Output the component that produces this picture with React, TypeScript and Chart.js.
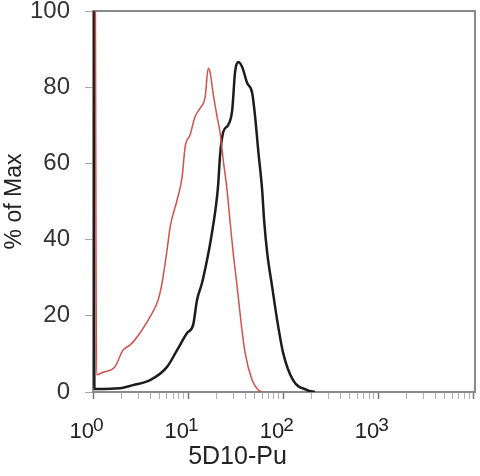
import { useEffect, useRef } from 'react';
import { Chart, registerables } from 'chart.js';

Chart.register(...registerables);

// black histogram (stained)
const blackX = [1.02, 1.035, 1.1, 1.92, 2.64, 3.98, 6.01, 7.66, 9.76, 11.3, 12.4, 14.0, 15.8, 17.1, 19.7, 20.7, 21.7, 23.4, 26.4, 29.1, 31.2, 33.6, 37.0, 41.8, 47.2, 50.7, 54.6, 60.1, 63.0, 67.9, 76.6, 86.4, 100, 127, 179, 216];
const blackY = [100, 0.8, 0.8, 1.0, 1.8, 3.1, 6.6, 11.0, 15.5, 17.6, 24.1, 28.6, 34.6, 39.1, 49.1, 54.3, 62.2, 68.2, 70.1, 74.0, 84.0, 86.6, 85.3, 81.1, 78.5, 72.2, 63.5, 53.0, 45.1, 36.5, 27.6, 18.9, 10.2, 3.1, 0.5, 0];

// red histogram (control)
const redX = [1.06, 1.09, 1.27, 1.7, 2.07, 2.45, 3.12, 3.98, 4.83, 5.32, 6.01, 6.47, 7.66, 8.65, 9.3, 10.5, 11.8, 13.4, 15.1, 16.3, 17.1, 18.3, 20.2, 21.7, 23.4, 25.7, 27.7, 29.8, 32.8, 35.8, 39.8, 47.2, 54.6, 60.1];
const redY = [100, 4.5, 5.2, 6.6, 11.0, 12.3, 15.5, 19.7, 24.1, 28.6, 37.3, 43.3, 50.4, 56.4, 64.3, 67.5, 72.2, 74.5, 77.4, 85.0, 83.7, 78.5, 72.2, 68.0, 60.9, 53.0, 44.4, 36.5, 27.6, 18.9, 10.2, 3.1, 0.5, 0];

const decades = [1, 10, 100, 1000];
const exponents = ['0', '1', '2', '3'];
const yTicks = [0, 20, 40, 60, 80, 100];

const FONT = '"Liberation Sans", Arial, sans-serif';

const frame = {
  id: 'frame',
  beforeDatasetsDraw(chart: Chart) {
    const { ctx, chartArea } = chart;
    ctx.save();
    ctx.strokeStyle = '#8a8a8a';
    ctx.lineWidth = 2;
    ctx.strokeRect(chartArea.left, chartArea.top, chartArea.right - chartArea.left, chartArea.bottom - chartArea.top);
    ctx.restore();
  },
};

const powerLabels = {
  id: 'powerLabels',
  afterDraw(chart: Chart) {
    const { ctx } = chart;
    const x = chart.scales.x;
    ctx.save();
    ctx.fillStyle = '#222';
    ctx.textBaseline = 'alphabetic';
    decades.forEach((d, i) => {
      const px = x.getPixelForValue(d);
      ctx.font = `22px ${FONT}`;
      ctx.textAlign = 'right';
      ctx.fillText('10', px + 1, x.top + 46);
      ctx.font = `19px ${FONT}`;
      ctx.textAlign = 'left';
      ctx.fillText(exponents[i], px, x.top + 39);
    });
    ctx.restore();
  },
};

export default function App() {
  const chartRef = useRef<HTMLCanvasElement>(null);
  const chartInstance = useRef<Chart | null>(null);

  useEffect(() => {
    if (!chartRef.current) return;
    if (chartInstance.current) chartInstance.current.destroy();

    chartInstance.current = new Chart(chartRef.current, {
      type: 'line',
      data: {
        datasets: [
          {
            label: 'control',
            data: redX.map((x, i) => ({ x, y: redY[i] })),
            borderColor: '#d2504e',
            borderWidth: 1.5,
            pointRadius: 0,
            cubicInterpolationMode: 'monotone',
            fill: false,
          },
          {
            label: '5D10',
            data: blackX.map((x, i) => ({ x, y: blackY[i] })),
            borderColor: '#1c1c1c',
            borderWidth: 2.5,
            pointRadius: 0,
            cubicInterpolationMode: 'monotone',
            fill: false,
          },
        ],
      },
      options: {
        animation: false,
        responsive: true,
        maintainAspectRatio: false,
        layout: { padding: { top: 11, right: 5, left: 0, bottom: 0 } },
        plugins: {
          legend: { display: false },
          tooltip: { enabled: false },
          title: {
            display: true,
            position: 'bottom',
            text: '5D10-Pu',
            color: '#222',
            font: { family: FONT, size: 25, weight: 'normal' },
            padding: { top: 0, bottom: 4 },
          },
        },
        scales: {
          x: {
            type: 'logarithmic',
            min: 1,
            max: 10400,
            afterBuildTicks: (scale: any) => {
              const t: { value: number; major: boolean }[] = [];
              decades.concat([10000]).forEach((d) => {
                for (let m = 1; m <= (d === 10000 ? 1 : 9); m++) t.push({ value: d * m, major: m === 1 });
              });
              scale.ticks = t;
            },
            afterFit: (scale: any) => {
              scale.height = 50;
              scale.paddingLeft = 0;
              scale.paddingRight = 0;
            },
            ticks: { display: false },
            border: { display: false },
            grid: {
              drawOnChartArea: false,
              tickLength: 7,
              tickColor: (c: any) => (c.tick && c.tick.major ? '#777' : '#b0b0b0'),
              tickWidth: (c: any) => (c.tick && c.tick.major ? 1.5 : 1),
            },
          },
          y: {
            min: 0,
            max: 100,
            afterBuildTicks: (scale: any) => {
              scale.ticks = yTicks.map((v) => ({ value: v }));
            },
            afterFit: (scale: any) => {
              scale.width = 93;
              scale.paddingTop = 0;
              scale.paddingBottom = 0;
            },
            ticks: {
              color: '#333',
              padding: 15,
              font: { family: FONT, size: 24 },
            },
            border: { display: false },
            grid: { drawOnChartArea: false, tickLength: 8, tickColor: '#aaa' },
            title: {
              display: true,
              text: '% of Max',
              color: '#222',
              font: { family: FONT, size: 23 },
              padding: { top: 1, bottom: 0 },
            },
          },
        },
      },
      plugins: [frame, powerLabels],
    });

    return () => {
      if (chartInstance.current) {
        chartInstance.current.destroy();
        chartInstance.current = null;
      }
    };
  }, []);

  return (
    <div style={{ position: 'fixed', left: 0, top: 0, width: 480, height: 476, background: '#fff' }}>
      <canvas ref={chartRef} />
    </div>
  );
}
